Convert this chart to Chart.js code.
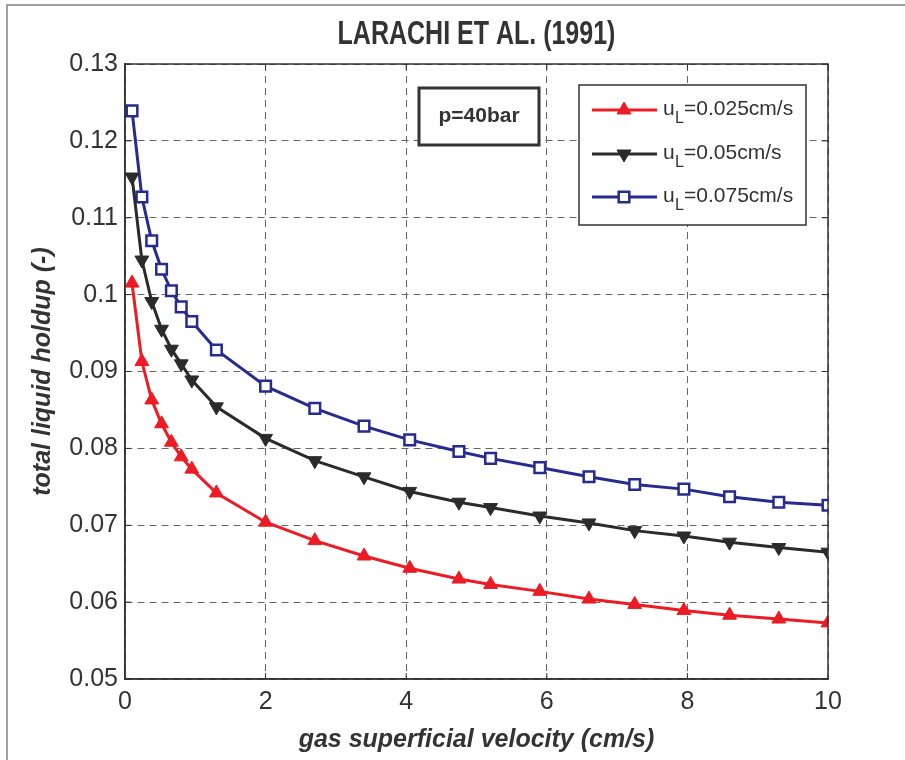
<!DOCTYPE html>
<html>
<head>
<meta charset="utf-8">
<script src="https://cdn.jsdelivr.net/npm/chart.js@4.4.1/dist/chart.umd.min.js"></script>
<style>
  html, body { margin: 0; padding: 0; background: #fff; }
  #wrap { width: 905px; height: 760px; }
</style>
</head>
<body>
<div id="wrap"><canvas id="myChart" width="905" height="760"></canvas></div>
<script>
"use strict";

// gas superficial velocity (cm/s)
const xValues = [0.1, 0.24, 0.38, 0.52, 0.66, 0.8, 0.95, 1.3, 2.0, 2.7, 3.4,
  4.05, 4.75, 5.2, 5.9, 6.6, 7.25, 7.95, 8.6, 9.3, 10];

// total liquid holdup for each liquid velocity
const hold025 = [0.1015, 0.0913, 0.0863, 0.0832, 0.0808, 0.0789, 0.0773, 0.0742,
  0.0704, 0.068, 0.066, 0.0644, 0.063, 0.0623, 0.0614, 0.0604, 0.0597, 0.0589,
  0.0583, 0.0578, 0.0573];
const hold05 = [0.1153, 0.1045, 0.0991, 0.0955, 0.0929, 0.091, 0.0889, 0.0854,
  0.0813, 0.0784, 0.0763, 0.0744, 0.073, 0.0723, 0.0712, 0.0703, 0.0693, 0.0686,
  0.0678, 0.0671, 0.0665];
const hold075 = [0.1239, 0.1127, 0.107, 0.1033, 0.1005, 0.0984, 0.0965, 0.0928,
  0.0881, 0.0852, 0.0829, 0.0811, 0.0796, 0.0787, 0.0775, 0.0763, 0.0753, 0.0747,
  0.0737, 0.073, 0.0726];

const seriesLabels = ["=0.025cm/s", "=0.05cm/s", "=0.075cm/s"];
const chartTitle = "LARACHI ET AL. (1991)";
const boxText = "p=40bar";
const xTitle = "gas superficial velocity (cm/s)";
const yTitle = "total liquid holdup (-)";

const dark = "#333333";
const font = "'Liberation Sans', Arial, sans-serif";

function toPoints(ys) {
  return ys.map((y, i) => ({ x: xValues[i], y: y }));
}

// outer frame, plot box, inward ticks, title, p box and legend
const decorations = {
  id: "decorations",
  beforeDraw(chart) {
    const ctx = chart.ctx;
    ctx.save();
    ctx.fillStyle = "#fff";
    ctx.fillRect(0, 0, chart.width, chart.height);
    ctx.strokeStyle = "#a0a0a0";
    ctx.lineWidth = 2;
    ctx.beginPath();
    ctx.moveTo(7, chart.height);
    ctx.lineTo(7, 5);
    ctx.lineTo(chart.width, 5);
    ctx.stroke();
    ctx.restore();
  },
  afterDatasetsDraw(chart) {
    const ctx = chart.ctx;
    const a = chart.chartArea;
    const xs = chart.scales.x;
    const ys = chart.scales.y;
    ctx.save();

    // ticks pointing inward on all four sides
    ctx.strokeStyle = dark;
    ctx.lineWidth = 1;
    ctx.beginPath();
    xs.ticks.forEach((t) => {
      const px = xs.getPixelForValue(t.value);
      ctx.moveTo(px, a.bottom);
      ctx.lineTo(px, a.bottom - 6);
      ctx.moveTo(px, a.top);
      ctx.lineTo(px, a.top + 6);
    });
    ys.ticks.forEach((t) => {
      const py = ys.getPixelForValue(t.value);
      ctx.moveTo(a.left, py);
      ctx.lineTo(a.left + 6, py);
      ctx.moveTo(a.right, py);
      ctx.lineTo(a.right - 6, py);
    });
    ctx.stroke();

    ctx.lineWidth = 1.5;
    ctx.strokeRect(a.left, a.top, a.right - a.left, a.bottom - a.top);

    // title, centred over the plot area, a little taller than wide
    ctx.save();
    ctx.translate((a.left + a.right) / 2, 35);
    ctx.scale(1, 1.3);
    ctx.fillStyle = dark;
    ctx.font = "bold 25px " + font;
    ctx.textAlign = "center";
    ctx.textBaseline = "middle";
    ctx.fillText(chartTitle, 0, 0);
    ctx.restore();

    // p=40bar annotation
    ctx.fillStyle = "#fff";
    ctx.fillRect(419, 88, 120, 57);
    ctx.strokeStyle = dark;
    ctx.lineWidth = 3;
    ctx.strokeRect(419, 88, 120, 57);
    ctx.fillStyle = dark;
    ctx.font = "bold 21px " + font;
    ctx.textAlign = "center";
    ctx.textBaseline = "middle";
    ctx.fillText(boxText, 479, 116);

    // legend
    ctx.fillStyle = "#fff";
    ctx.fillRect(579, 85, 227, 140);
    ctx.strokeStyle = dark;
    ctx.lineWidth = 1.5;
    ctx.strokeRect(579, 85, 227, 140);
    const rows = [110, 154, 197];
    chart.data.datasets.forEach((ds, i) => {
      const y = rows[i];
      ctx.strokeStyle = ds.borderColor;
      ctx.lineWidth = ds.borderWidth;
      ctx.beginPath();
      ctx.moveTo(592, y);
      ctx.lineTo(657, y);
      ctx.stroke();
      ctx.fillStyle = ds.pointBackgroundColor;
      ctx.strokeStyle = ds.borderColor;
      ctx.lineWidth = ds.pointBorderWidth;
      Chart.helpers.drawPoint(ctx, {
        pointStyle: ds.pointStyle,
        rotation: ds.pointRotation,
        radius: ds.pointRadius,
        borderWidth: ds.pointBorderWidth,
      }, 624, y);

      ctx.fillStyle = dark;
      ctx.textAlign = "left";
      ctx.textBaseline = "alphabetic";
      ctx.font = "21px " + font;
      ctx.fillText("u", 663, y + 5);
      ctx.font = "16px " + font;
      ctx.fillText("L", 675, y + 13);
      ctx.font = "21px " + font;
      ctx.fillText(seriesLabels[i], 684, y + 5);
    });
    ctx.restore();
  },
};

const tickFont = { family: font, size: 25 };
const titleFont = { family: font, size: 25, weight: "bold", style: "italic" };

new Chart("myChart", {
  type: "line",
  data: {
    datasets: [
      {
        label: seriesLabels[0],
        data: toPoints(hold025),
        borderColor: "#ec1c24",
        backgroundColor: "#ec1c24",
        pointBackgroundColor: "#ec1c24",
        borderWidth: 3,
        pointStyle: "triangle",
        pointRotation: 0,
        pointRadius: 8,
        pointBorderWidth: 1,
      },
      {
        label: seriesLabels[1],
        data: toPoints(hold05),
        borderColor: "#2b2b2b",
        backgroundColor: "#2b2b2b",
        pointBackgroundColor: "#2b2b2b",
        borderWidth: 3,
        pointStyle: "triangle",
        pointRotation: 180,
        pointRadius: 8,
        pointBorderWidth: 1,
      },
      {
        label: seriesLabels[2],
        data: toPoints(hold075),
        borderColor: "#262b8e",
        backgroundColor: "#ffffff",
        pointBackgroundColor: "#ffffff",
        borderWidth: 3,
        pointStyle: "rect",
        pointRotation: 0,
        pointRadius: 7.5,
        pointBorderWidth: 2.5,
      },
    ],
  },
  plugins: [decorations],
  options: {
    responsive: false,
    animation: false,
    layout: { padding: { top: 64, right: 77, bottom: 0, left: 0 } },
    elements: { line: { tension: 0 } },
    plugins: {
      legend: { display: false },
      title: { display: false },
      tooltip: { enabled: false },
    },
    scales: {
      x: {
        type: "linear",
        min: 0,
        max: 10,
        afterFit: (s) => { s.height = 81; },
        ticks: { stepSize: 2, color: dark, font: tickFont, padding: 8, maxRotation: 0 },
        grid: { color: "#666", lineWidth: 1, drawTicks: false },
        border: { display: true, color: dark, width: 1.5, dash: [7, 5] },
        title: { display: true, text: xTitle, color: dark, font: titleFont, padding: { top: 0, bottom: 5 } },
      },
      y: {
        type: "linear",
        min: 0.05,
        max: 0.13,
        afterFit: (s) => { s.width = 125; },
        ticks: {
          stepSize: 0.01,
          color: dark,
          font: tickFont,
          padding: 7,
          callback: (v) => String(Number(v.toFixed(2))),
        },
        grid: { color: "#666", lineWidth: 1, drawTicks: false },
        border: { display: true, color: dark, width: 1.5, dash: [7, 5] },
        title: { display: true, text: yTitle, color: dark, font: titleFont, padding: { top: 28, bottom: 0 } },
      },
    },
  },
});
</script>
</body>
</html>
